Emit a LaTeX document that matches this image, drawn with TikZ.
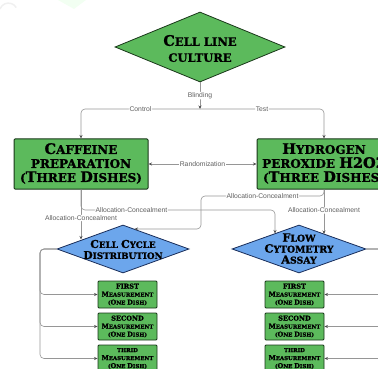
\documentclass[tikz,border=0pt]{standalone}
\usepackage{fontspec}
\usetikzlibrary{shapes.geometric,arrows.meta}
\newfontfamily\hf[FakeBold=1.2]{DejaVu Serif Bold}
\newfontfamily\lf{Liberation Sans}
\newcommand\Kp[2]{{\fontsize{#1}{#1}\selectfont #2}}
\definecolor{gfill}{RGB}{92,186,92}
\definecolor{gline}{RGB}{25,55,25}
\definecolor{bfill}{RGB}{108,166,236}
\definecolor{bline}{RGB}{25,45,90}
\definecolor{cline}{RGB}{150,150,150}
\definecolor{tipc}{RGB}{80,80,80}
\definecolor{labc}{RGB}{95,95,95}
\tikzset{
  gbox/.style={rectangle, draw=gline, line width=1pt, fill=gfill, rounded corners=1pt, inner sep=0pt, align=center, text=black},
  gdia/.style={diamond, draw=gline, line width=0.8pt, fill=gfill, inner sep=0pt},
  bdia/.style={diamond, draw=bline, line width=0.8pt, fill=bfill, inner sep=0pt},
  dtext/.style={align=center, inner sep=0pt, text=black},
  conn/.style={draw=cline, line width=0.6pt, rounded corners=4pt, -{Stealth[length=3.5pt,width=3pt,color=tipc]}},
  conn2/.style={draw=cline, line width=0.6pt, {Stealth[length=3.5pt,width=3pt,color=tipc]}-{Stealth[length=3.5pt,width=3pt,color=tipc]}},
  lab/.style={font=\lf\fontsize{6.8}{7}\selectfont, text=labc, fill=white, inner sep=0.6pt}
}
\begin{document}
\begin{tikzpicture}[x=1pt,y=-1pt]
\useasboundingbox (0,0) rectangle (378,369);
\begin{scope}
\clip (0,0) rectangle (378,369);
% faint watermark
\fill[green!5] (58,0) -- (86,0) -- (74,9) -- cycle;
\draw[gray!12, line width=1.5pt] (0,9) arc[start angle=200, end angle=330, radius=9];

% nodes
\node[gdia, minimum width=170, minimum height=70] (top) at (200,47) {};
\node[dtext, font=\hf\fontsize{11.5}{16}\selectfont] (topt) at (200,48.5) {\Kp{14.5}{C}ELL LINE\\CULTURE};

\node[gbox, minimum width=134, minimum height=50] (caf) at (81,164) {};
\node[dtext, font=\hf\fontsize{12}{14}\selectfont] (caft) at (81,163.5) {\Kp{14.5}{C}AFFEINE\\PREPARATION\\(\Kp{14.5}{T}HREE \Kp{14.5}{D}ISHES)};

\node[gbox, minimum width=134, minimum height=50] (hyd) at (324,164) {};
\node[dtext, font=\hf\fontsize{12}{14}\selectfont] (hydt) at (324,163.5) {\Kp{14.5}{H}YDROGEN\\PEROXIDE \Kp{14.5}{H2O2}\\(\Kp{14.5}{T}HREE \Kp{14.5}{D}ISHES)};

\node[bdia, minimum width=132, minimum height=48] (ldia) at (123,249) {};
\node[dtext, font=\hf\fontsize{8.8}{11}\selectfont] (ldiat) at (123,249.5) {\Kp{10.8}{C}ELL \Kp{10.8}{C}YCLE\\\Kp{10.8}{D}ISTRIBUTION};

\node[bdia, minimum width=134, minimum height=48] (rdia) at (299,249) {};
\node[dtext, font=\hf\fontsize{9.3}{11}\selectfont] (rdiat) at (299,248.5) {\Kp{11.3}{F}LOW\\\Kp{11.3}{C}YTOMETRY\\\Kp{11.3}{A}SSAY};

\foreach \n/\t/\yy in {1/FIRST/294.5, 2/SECOND/326.5, 3/THRID/358.5}{
  \node[gbox, line width=0.9pt, minimum width=59, minimum height=27] (lm\n) at (127.5,\yy) {};
  \node[dtext, font=\hf\fontsize{5.4}{8}\selectfont] (lmt\n) at (127.5,\yy) {\ifnum\n<3 \Kp{6.6}{\t}\else\t\fi\\\Kp{6.6}{M}EASUREMENT\\(\Kp{6.6}{O}NE \Kp{6.6}{D}ISH)};
  \node[gbox, line width=0.9pt, minimum width=59, minimum height=27] (rm\n) at (294.5,\yy) {};
  \node[dtext, font=\hf\fontsize{5.4}{8}\selectfont] (rmt\n) at (294.5,\yy) {\ifnum\n<3 \Kp{6.6}{\t}\else\t\fi\\\Kp{6.6}{M}EASUREMENT\\(\Kp{6.6}{O}NE \Kp{6.6}{D}ISH)};
}

% coordinates
\coordinate (j) at (200,109);
\coordinate (ldn) at (81,239.5);
\coordinate (ldne) at (134.5,229);
\coordinate (rdnw) at (275,233.5);
\coordinate (rdn) at (324,234);

% connectors
\draw[conn] (top.south) -- node[lab, pos=0.5]{Blinding} (j);
\draw[conn] (j) -| node[lab, pos=0.25]{Control} (caf.north);
\draw[conn] (j) -| node[lab, pos=0.25]{Test} (hyd.north);
\draw[conn2] (caf.east) -- node[lab]{Randomization} (hyd.west);

\draw[conn] (caf.south) -- node[lab, pos=0.57]{Allocation-Concealment} (ldn);
\draw[conn] (caf.south) -- (81,210) -- node[lab, pos=0.26]{Allocation-Concealment} (275,210) -- (rdnw);
\draw[conn] (hyd.south) -- node[lab, pos=0.47]{Allocation-Concealment} (rdn);
\draw[conn] (hyd.south) -- (324,196) -- node[lab, pos=0.5]{Allocation-Concealment} (201,196) -- (201,229) -- (ldne);

\foreach \n in {1,2,3}{
  \draw[conn] (ldia.west) -- (40,249) |- (lm\n.west);
  \draw[conn] (rdia.east) -- (392,249) |- (rm\n.east);
}
\end{scope}
\end{tikzpicture}
\end{document}
